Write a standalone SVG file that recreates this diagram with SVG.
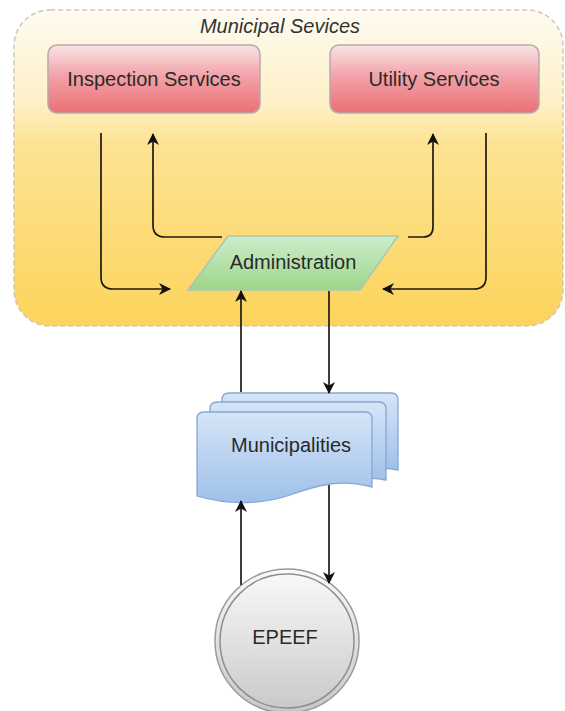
<svg xmlns="http://www.w3.org/2000/svg" width="565" height="711" viewBox="0 0 565 711">
<defs>
<linearGradient id="gCont" x1="0" y1="0" x2="0" y2="1">
<stop offset="0" stop-color="#fefbf1"/>
<stop offset="0.3" stop-color="#fdf0c6"/>
<stop offset="0.42" stop-color="#fde393"/>
<stop offset="1" stop-color="#fcd45c"/>
</linearGradient>
<linearGradient id="gRed" x1="0" y1="0" x2="0" y2="1">
<stop offset="0" stop-color="#f9e4e6"/>
<stop offset="0.45" stop-color="#f2a3a8"/>
<stop offset="1" stop-color="#ec6f76"/>
</linearGradient>
<linearGradient id="gGreen" x1="0" y1="0" x2="0" y2="1">
<stop offset="0" stop-color="#cdeccc"/>
<stop offset="1" stop-color="#9dd689"/>
</linearGradient>
<linearGradient id="gBlue" x1="0" y1="0" x2="0" y2="1">
<stop offset="0" stop-color="#d6e5f7"/>
<stop offset="1" stop-color="#9fc0ea"/>
</linearGradient>
<linearGradient id="gGrey" x1="0" y1="0" x2="0" y2="1">
<stop offset="0" stop-color="#fafafa"/>
<stop offset="1" stop-color="#c8c8c8"/>
</linearGradient>
<marker id="arr" viewBox="0 0 12 12" refX="11" refY="6" markerWidth="12" markerHeight="12" markerUnits="userSpaceOnUse" orient="auto">
<path d="M0,0 L12,6 L0,12 L3.5,6 Z" fill="#111"/>
</marker>
<style>
.lbl{font-family:"Liberation Sans",Arial,sans-serif;font-size:20px;fill:#2a2a2a;text-anchor:middle}
.edge{fill:none;stroke:#1f1a12;stroke-width:1.7}
</style>
</defs>
<g id="container">
<rect x="14" y="10" width="549" height="316" rx="36" fill="url(#gCont)" stroke="#cfc6b8" stroke-width="1.5" stroke-dasharray="5 3"/>
<text x="280" y="33" class="lbl" style="font-style:italic;fill:#333">Municipal Sevices</text>
</g>
<g id="inspection">
<rect x="48" y="45" width="212" height="68" rx="9" fill="url(#gRed)" stroke="#b9a9aa" stroke-width="1.5"/>
<text x="154" y="86" class="lbl">Inspection Services</text>
</g>
<g id="utility">
<rect x="330" y="45" width="209" height="68" rx="9" fill="url(#gRed)" stroke="#b9a9aa" stroke-width="1.5"/>
<text x="434" y="86" class="lbl">Utility Services</text>
</g>
<g id="administration">
<polygon points="228,236 398,236 360,290 188,290" fill="url(#gGreen)" stroke="#a9c6b6" stroke-width="1.5"/>
<text x="293" y="269" class="lbl">Administration</text>
</g>
<g id="municipalities">
<path d="M222,400 Q222,393 229,393 L391,393 Q398,393 398,400 L398,470 Q380,466 360,472 L222,472 Z" fill="url(#gBlue)" stroke="#86a7d4" stroke-width="1.3"/>
<path d="M210,409 Q210,402 217,402 L379,402 Q386,402 386,409 L386,480 Q368,476 348,482 L210,482 Z" fill="url(#gBlue)" stroke="#86a7d4" stroke-width="1.3"/>
<path d="M197,419 Q197,412 204,412 L365,412 Q372,412 372,419 L372,487 C340,478 315,486 290,495 C265,504 230,506 197,496 Z" fill="url(#gBlue)" stroke="#86a7d4" stroke-width="1.3"/>
<text x="291" y="452" class="lbl">Municipalities</text>
</g>
<g id="epeef">
<circle cx="287" cy="641" r="72" fill="url(#gGrey)" stroke="#9a9a9a" stroke-width="1.5"/>
<circle cx="287" cy="641" r="67" fill="none" stroke="#8f8f8f" stroke-width="1.5"/>
<text x="285" y="644" class="lbl">EPEEF</text>
</g>
<g id="connectors">
<path class="edge" d="M101,133 L101,277 Q101,289 113,289 L170,289" marker-end="url(#arr)"/>
<path class="edge" d="M222,237 L165,237 Q153,237 153,225 L153,134" marker-end="url(#arr)"/>
<path class="edge" d="M408,237 L423,237 Q433,237 433,227 L433,134" marker-end="url(#arr)"/>
<path class="edge" d="M486,133 L486,277 Q486,289 474,289 L383,289" marker-end="url(#arr)"/>
<path class="edge" d="M241,392 L241,291" marker-end="url(#arr)"/>
<path class="edge" d="M329,291 L329,393" marker-end="url(#arr)"/>
<path class="edge" d="M241,585 L241,501" marker-end="url(#arr)"/>
<path class="edge" d="M329,485 L329,583" marker-end="url(#arr)"/>
</g>
</svg>
